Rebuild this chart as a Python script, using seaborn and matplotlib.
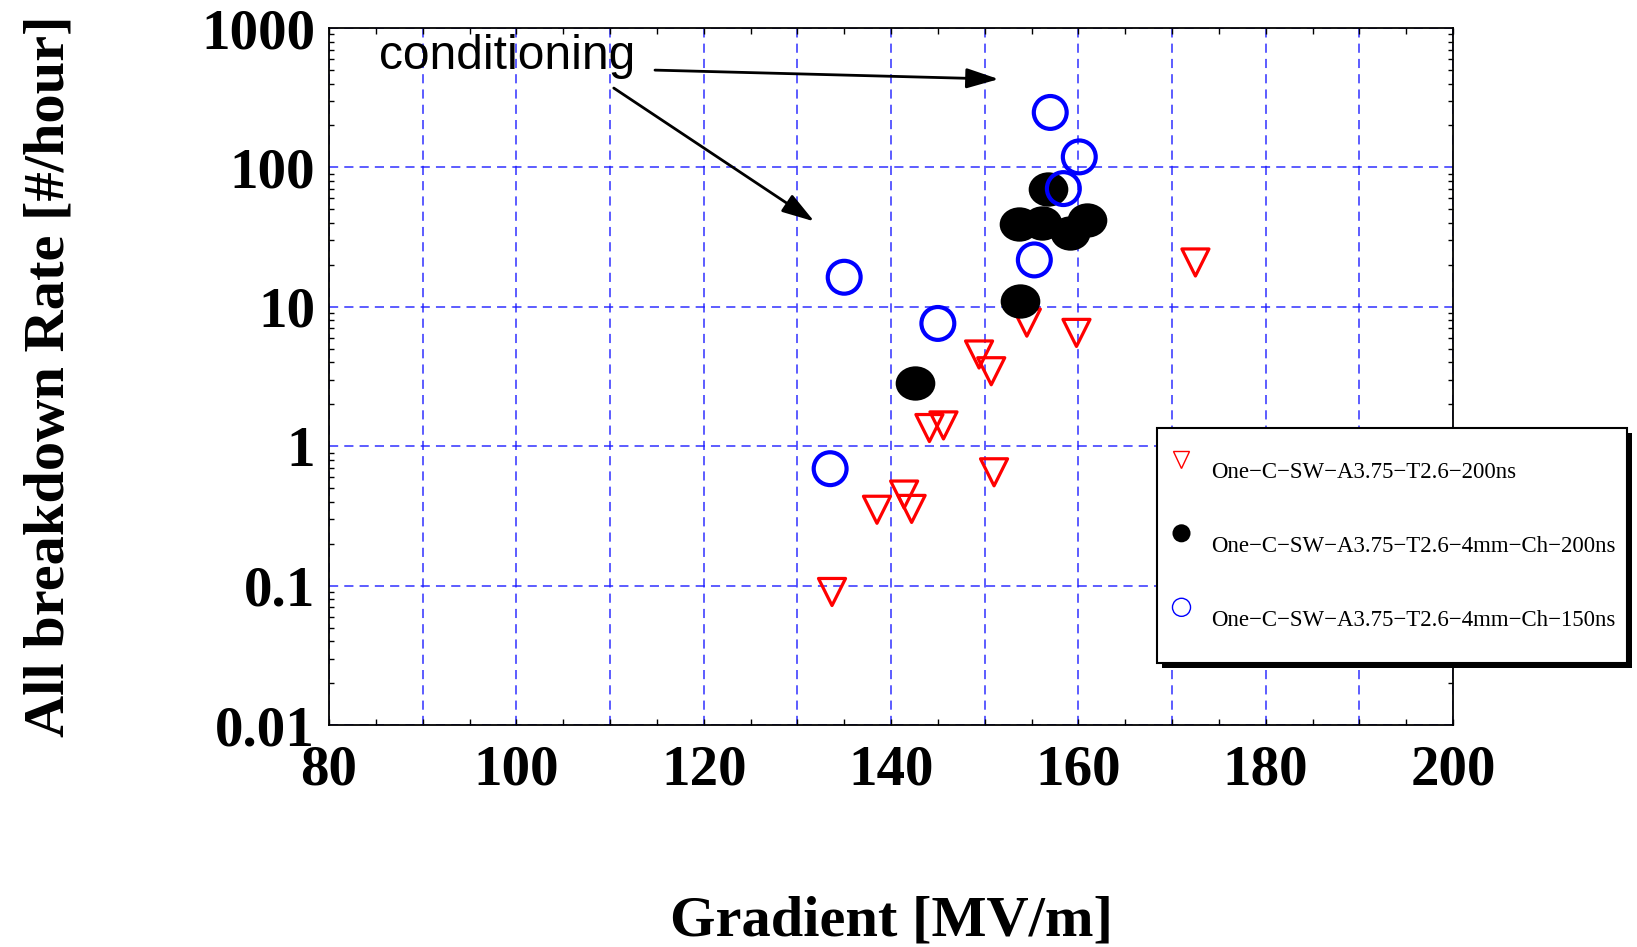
import numpy as np
import pandas as pd
import matplotlib
matplotlib.use("Agg")
import matplotlib.pyplot as plt
import seaborn as sns
from matplotlib.lines import Line2D
from matplotlib.markers import MarkerStyle
from matplotlib.patches import Rectangle
from matplotlib.transforms import Affine2D
from matplotlib.ticker import MultipleLocator, LogLocator, FuncFormatter, NullFormatter

# ---- data ----
red_x = [133.7, 138.5, 141.4, 142.2, 151.0, 144.1, 145.6, 149.4, 150.7, 154.5, 159.8, 172.5]
red_y = [0.09, 0.35, 0.45, 0.355, 0.65, 1.35, 1.41, 4.55, 3.45, 7.7, 6.5, 20.8]
black_x = [142.6, 153.8, 156.8, 153.7, 156.1, 159.1, 160.9]
black_y = [2.85, 11.0, 69.7, 39.0, 40.0, 34.0, 42.0]
blue_x = [157.0, 160.1, 158.4, 155.3, 135.0, 145.0, 133.5]
blue_y = [248.0, 119.0, 70.5, 21.7, 16.3, 7.6, 0.69]

labels = ["One\u2212C\u2212SW\u2212A3.75\u2212T2.6\u2212200ns",
          "One\u2212C\u2212SW\u2212A3.75\u2212T2.6\u22124mm\u2212Ch\u2212200ns",
          "One\u2212C\u2212SW\u2212A3.75\u2212T2.6\u22124mm\u2212Ch\u2212150ns"]
annot_text = "conditioning"
x_label = "Gradient [MV/m]"
y_label = "All breakdown Rate [#/hour]"

df_red = pd.DataFrame({"x": red_x, "y": red_y})
df_black = pd.DataFrame({"x": black_x, "y": black_y})
df_blue = pd.DataFrame({"x": blue_x, "y": blue_y})

sns.set_theme(style="white")
plt.rcParams['font.family'] = ['Liberation Serif', 'DejaVu Serif']
plt.rcParams['text.color'] = 'black'
plt.rcParams['axes.labelcolor'] = 'black'
plt.rcParams['xtick.color'] = 'black'
plt.rcParams['ytick.color'] = 'black'

fig = plt.figure(figsize=(16.37, 9.47), dpi=100)
ax = fig.add_axes([0.201, 0.2344, 0.6866, 0.736])

ax.set_yscale("log")
ax.set_xlim(80, 200)
ax.set_ylim(0.01, 1000)

# grid
ax.xaxis.set_major_locator(MultipleLocator(10))
ax.xaxis.set_minor_locator(MultipleLocator(5))
ax.xaxis.set_major_formatter(FuncFormatter(lambda v, p: f"{v:.0f}" if abs(v % 20) < 1e-6 else ""))
ax.yaxis.set_major_locator(LogLocator(base=10, numticks=10))
ax.yaxis.set_minor_locator(LogLocator(base=10, subs=np.arange(2, 10), numticks=20))
ax.yaxis.set_major_formatter(FuncFormatter(lambda v, p: f"{v:g}"))
ax.yaxis.set_minor_formatter(NullFormatter())
ax.grid(True, which="major", color="#1a1aff", lw=1.1, linestyle=(0, (6, 4)), alpha=0.9)
ax.set_axisbelow(True)

# data
sns.scatterplot(data=df_red, x="x", y="y", ax=ax, marker="v", s=380,
                facecolor="none", edgecolor="red", linewidth=2.3, zorder=3)
ell = MarkerStyle("o", transform=Affine2D().scale(1.12, 0.97))
sns.scatterplot(data=df_black, x="x", y="y", ax=ax, marker=ell, s=650,
                color="black", edgecolor="black", linewidth=0, zorder=4)
sns.scatterplot(data=df_blue, x="x", y="y", ax=ax, marker="o", s=560,
                facecolor="none", edgecolor="blue", linewidth=3.0, zorder=5)

# annotation
ax.text(85.3, 630, annot_text, ha="left", va="center", fontsize=34.5,
        family=["Liberation Sans", "DejaVu Sans"], color="black", zorder=6)
arrow_kw = dict(arrowstyle="-|>,head_length=0.9,head_width=0.28", color="black",
                lw=2.0, mutation_scale=22, shrinkA=0, shrinkB=0)
ax.annotate("", xy=(151.5, 430), xytext=(114.8, 499), arrowprops=arrow_kw, zorder=6)
ax.annotate("", xy=(131.8, 41), xytext=(110.4, 371), arrowprops=arrow_kw, zorder=6)

# axes styling
for sp in ax.spines.values():
    sp.set_visible(True)
    sp.set_color("black")
    sp.set_linewidth(1.3)
ax.tick_params(axis="both", which="both", direction="in", top=True, right=True,
               bottom=True, left=True, color="black")
ax.tick_params(axis="x", which="both", length=4, width=1, pad=14, labelsize=41)
ax.tick_params(axis="y", which="major", length=0, pad=10, labelsize=41)
ax.tick_params(axis="y", which="minor", length=3.5, width=1)
for lab in ax.get_xticklabels() + ax.get_yticklabels():
    lab.set_fontweight("bold")

ax.set_xlabel(x_label, fontsize=42, fontweight="bold")
ax.xaxis.set_label_coords(0.5, -0.245)
ax.set_ylabel(y_label, fontsize=42, fontweight="bold")
ax.yaxis.set_label_coords(-0.226, 0.5)

# legend box (frame + shadow drawn as figure patches)
bx, by, bw, bh = 0.7068, 0.2999, 0.2871, 0.2482
sx, sy = 5 / 1637, 5 / 947
fig.patches.append(Rectangle((bx + sx, by - sy), bw, bh, transform=fig.transFigure,
                             facecolor="black", edgecolor="black", lw=0, zorder=9))
fig.patches.append(Rectangle((bx, by), bw, bh, transform=fig.transFigure,
                             facecolor="white", edgecolor="black", lw=1.5, zorder=10))

# legend entries (markers sit slightly above their text, as in the reference)
def up(m):
    return MarkerStyle(m, transform=Affine2D().translate(0, 0.62))

handles = [
    Line2D([], [], ls="none", marker=up("v"), markersize=12, mfc="none", mec="red", mew=1.0),
    Line2D([], [], ls="none", marker=up("o"), markersize=13, mfc="black", mec="black", mew=0),
    Line2D([], [], ls="none", marker=up("o"), markersize=13, mfc="none", mec="blue", mew=1.0),
]
leg = fig.legend(handles, labels, loc="upper left", bbox_to_anchor=(0.7147, 0.5120),
                 bbox_transform=fig.transFigure, fontsize=16.5, frameon=False,
                 labelspacing=2.3, borderpad=0, handletextpad=0.8, handlelength=1.0,
                 borderaxespad=0)
leg.set_zorder(11)

fig.savefig("out.png", dpi=100)
